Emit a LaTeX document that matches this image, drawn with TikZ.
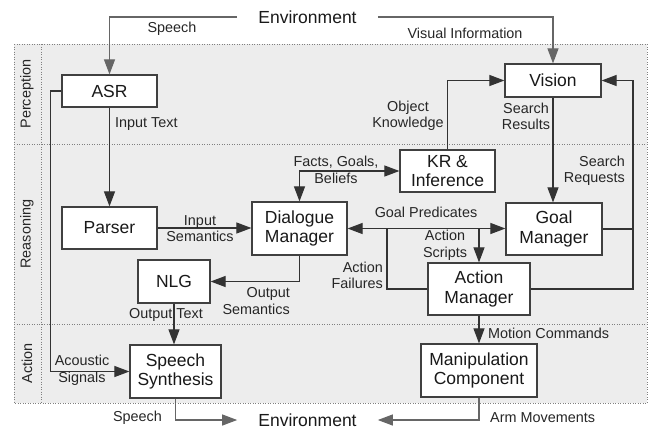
\documentclass[tikz,border=0pt]{standalone}
\usepackage{fontspec}
\setmainfont{Liberation Sans}
\usetikzlibrary{arrows.meta,calc}
\begin{document}
\begin{tikzpicture}[x=1pt,y=-1pt,
  box/.style={draw=black!75, line width=1.2pt, fill=white, align=center, font=\fontsize{17.5}{19.5}\selectfont, inner sep=0pt, text=black!90},
  lbl/.style={font=\fontsize{14.4}{16.5}\selectfont, inner sep=0pt, text=black!85},
  conn/.style={draw=black!80, line width=1.1pt},
  arr/.style={conn, -{Triangle[length=15pt,width=11pt]}},
  darr/.style={conn, {Triangle[length=15pt,width=11pt]}-{Triangle[length=15pt,width=11pt]}},
  envline/.style={draw=black!60, line width=1.1pt},
  envarr/.style={envline, -{Triangle[length=15pt,width=11pt]}},
  sep/.style={draw=black!50, line width=0.9pt, dash pattern=on 1pt off 1.5pt},
  env/.style={font=\fontsize{17.5}{19.5}\selectfont, inner xsep=21pt, inner ysep=0pt, text=black!90}
]
\useasboundingbox (0,0) rectangle (650,432);
% background and separators
\fill[black!7] (14,44) rectangle (647,403);
\draw[sep] (14,44) rectangle (647,403);
\draw[sep] (41,44) -- (41,403);
\draw[sep] (14,144) -- (647,144);
\draw[sep] (14,324) -- (647,324);
% region labels
\node[lbl, rotate=90] (perc) at (27,94) {Perception};
\node[lbl, rotate=90] (reas) at (27,234) {Reasoning};
\node[lbl, rotate=90] (act) at (27,363) {Action};
% environment
\node[env] (envtop) at (307.5,17) {Environment};
\node[env] (envbot) at (307.5,420) {Environment};
% boxes
\node[box, minimum width=95pt, minimum height=32pt] (asr) at (109.5,91) {ASR};
\node[box, minimum width=96pt, minimum height=33pt] (vision) at (553,80.5) {Vision};
\node[box, minimum width=95pt, minimum height=42pt] (kr) at (447.5,171) {KR \&\\Inference};
\node[box, minimum width=95pt, minimum height=42pt] (parser) at (109.5,228) {Parser};
\node[box, minimum width=95pt, minimum height=53pt] (dm) at (299.5,228.5) {Dialogue\\Manager};
\node[box, minimum width=72pt, minimum height=43pt] (nlg) at (174,281.5) {NLG};
\node[box, minimum width=96pt, minimum height=52pt] (gm) at (554,229) {Goal\\Manager};
\node[box, minimum width=102pt, minimum height=52pt] (am) at (479,289) {Action\\Manager};
\node[box, minimum width=91pt, minimum height=53pt] (ss) at (175.5,371.5) {Speech\\Synthesis};
\node[box, minimum width=116pt, minimum height=53pt] (mc) at (479,370.5) {Manipulation\\Component};
% helper coordinates
\coordinate (rail) at (633,80.5);
\coordinate (fj) at (387,228.5);
% connectors
\draw[envarr] (envtop.west) -| (asr.north);
\draw[envarr] (envtop.east) -| (vision.north);
\draw[arr] (asr.south) -- (parser.north);
\draw[arr] (asr.west) -- ++(-11,0) |- (ss.west);
\draw[arr] (parser.east) -- (parser.east -| dm.west);
\draw[darr] (kr.west) -| (dm.north);
\draw[arr] (kr.north) |- (vision.west);
\draw[arr] (vision.south) -- (vision.south |- gm.north);
\draw[arr] (gm.east) -| (rail) -- (vision.east);
\draw[conn] (am.east) -| (rail);
\draw[darr] (dm.east) -- (dm.east -| gm.west);
\draw[arr] (am.north |- dm.east) -- (am.north);
\draw[conn] (am.west) -| (fj);
\draw[arr] (dm.south) |- (nlg.east);
\draw[arr] (nlg.south) -- (nlg.south |- ss.north);
\draw[arr] (am.south) -- (mc.north);
\draw[envarr] (ss.south) |- (envbot.west);
\draw[envarr] (mc.south) |- (envbot.east);
% labels
\node[lbl] (lspeech1) at (172,29) {Speech};
\node[lbl] (lvis) at (465,33) {Visual Information};
\node[lbl, anchor=west] (linput) at (115,124) {Input Text};
\node[lbl, align=center] (lobj) at (408,116) {Object\\Knowledge};
\node[lbl, align=center] (lsres) at (526,116.5) {Search\\Results};
\node[lbl, align=right, anchor=east] (lsreq) at (625,171) {Search\\Requests};
\node[lbl, align=center] (lfacts) at (336,170) {Facts, Goals,\\Beliefs};
\node[lbl, align=center] (linsem) at (200,228.5) {Input\\Semantics};
\node[lbl] (lgoal) at (426,212) {Goal Predicates};
\node[lbl, align=center] (lscripts) at (445,245.5) {Action\\Scripts};
\node[lbl, align=right, anchor=east] (lfail) at (383,275.5) {Action\\Failures};
\node[lbl, align=right, anchor=east] (loutsem) at (290,301) {Output\\Semantics};
\node[lbl] (louttext) at (166,315) {Output Text};
\node[lbl, align=center] (lacou) at (82,370.5) {Acoustic\\Signals};
\node[lbl, anchor=west] (lmotion) at (488,333) {Motion Commands};
\node[lbl] (lspeech2) at (137.5,418) {Speech};
\node[lbl, anchor=west] (larm) at (490,418) {Arm Movements};
\end{tikzpicture}
\end{document}
